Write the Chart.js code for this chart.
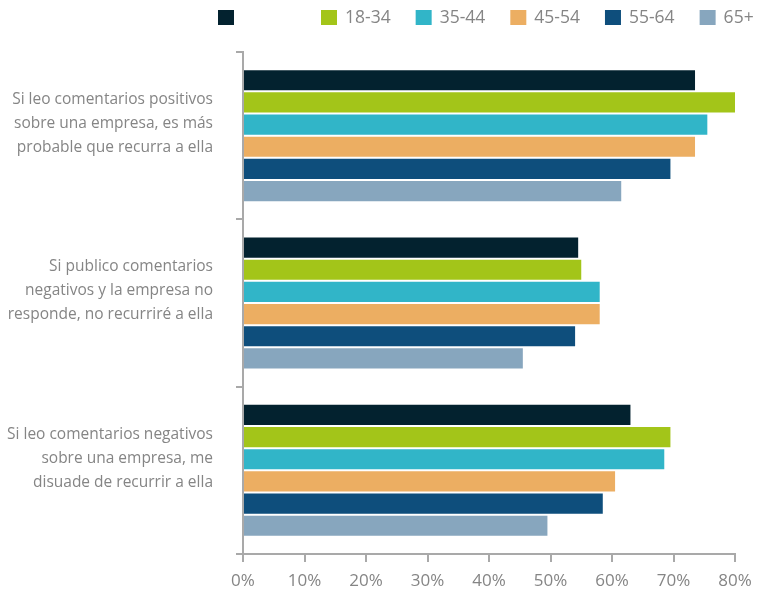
<!DOCTYPE html>
<html>
<head>
<meta charset="utf-8">
<script src="https://cdn.jsdelivr.net/npm/chart.js@4.4.1/dist/chart.umd.min.js"></script>
<style>
  html, body { margin: 0; padding: 0; background: #ffffff; }
  #wrap { width: 757px; height: 590px; position: relative; }
</style>
</head>
<body>
<div id="wrap"><canvas id="c"></canvas></div>
<script>
// Survey statements (category axis); the trailing blank line lifts each label block
const categories = [
  ['Si leo comentarios positivos', 'sobre una empresa, es más', 'probable que recurra a ella', ''],
  ['Si publico comentarios', 'negativos y la empresa no', 'responde, no recurriré a ella', ''],
  ['Si leo comentarios negativos', 'sobre una empresa, me', 'disuade de recurrir a ella', '']
];

// Age groups (the first series carries no legend text)
const seriesLabels = ['', '18-34', '35-44', '45-54', '55-64', '65+'];

// Share of respondents agreeing, in percent
const allAges = [73.5, 54.5, 63.0];
const age18to34 = [80.0, 55.0, 69.5];
const age35to44 = [75.5, 58.0, 68.5];
const age45to54 = [73.5, 58.0, 60.5];
const age55to64 = [69.5, 54.0, 58.5];
const age65plus = [61.5, 45.5, 49.5];

const xTicks = [0, 10, 20, 30, 40, 50, 60, 70, 80];

const seriesValues = [allAges, age18to34, age35to44, age45to54, age55to64, age65plus];
const seriesColors = ['#03222f', '#a3c519', '#31b5c8', '#ecae62', '#0e4e7c', '#87a6be'];

const FONT = 'Open Sans';
const TEXT_GREY = '#858585';
const AXIS_GREY = '#a9a9a9';

// Legend row drawn across the top of the canvas
const topLegend = {
  id: 'topLegend',
  afterDraw(chart) {
    const ctx = chart.ctx;
    ctx.save();
    ctx.font = '17.5px "' + FONT + '"';
    ctx.textBaseline = 'middle';
    ctx.textAlign = 'left';
    const cy = 17.5;
    const box = 16;
    let x = 218;
    chart.data.datasets.forEach((ds) => {
      ctx.fillStyle = ds.backgroundColor;
      ctx.fillRect(x, cy - 7.5, box, 15);
      if (ds.label) {
        ctx.fillStyle = TEXT_GREY;
        ctx.fillText(ds.label, x + box + 8, cy + 1);
        x += box + 8 + ctx.measureText(ds.label).width + 25;
      } else {
        x += 103;
      }
    });
    ctx.restore();
  }
};

const datasets = seriesValues.map((vals, i) => ({
  label: seriesLabels[i],
  data: vals,
  backgroundColor: seriesColors[i],
  borderWidth: 0,
  categoryPercentage: 0.795,
  barPercentage: 0.91
}));

new Chart(document.getElementById('c'), {
  type: 'bar',
  data: { labels: categories, datasets },
  plugins: [topLegend],
  options: {
    responsive: true,
    maintainAspectRatio: false,
    animation: false,
    indexAxis: 'y',
    layout: { padding: { top: 52, right: 22, left: 0, bottom: 0 } },
    plugins: {
      legend: { display: false },
      tooltip: { enabled: false }
    },
    scales: {
      x: {
        min: 0,
        max: 80,
        afterBuildTicks(scale) { scale.ticks = xTicks.map(v => ({ value: v })); },
        ticks: {
          callback: (v) => v + '%',
          color: TEXT_GREY,
          font: { family: FONT, size: 17 },
          padding: 9
        },
        grid: { drawOnChartArea: false, drawTicks: true, tickLength: 8, color: AXIS_GREY, lineWidth: 2 },
        border: { display: true, color: AXIS_GREY, width: 2 },
        afterFit(scale) {
          scale.height = 36;
          scale.paddingLeft = 0;
          scale.paddingRight = 0;
        }
      },
      y: {
        offset: true,
        ticks: {
          color: TEXT_GREY,
          font: { family: FONT, size: 15.5, lineHeight: 1.55 },
          padding: 23
        },
        grid: { offset: true, drawOnChartArea: false, drawTicks: true, tickLength: 7, color: AXIS_GREY, lineWidth: 2 },
        border: { display: true, color: AXIS_GREY, width: 2 },
        afterFit(scale) {
          scale.width = 243;
          scale.paddingTop = 0;
          scale.paddingBottom = 0;
        }
      }
    }
  }
});
</script>
</body>
</html>
